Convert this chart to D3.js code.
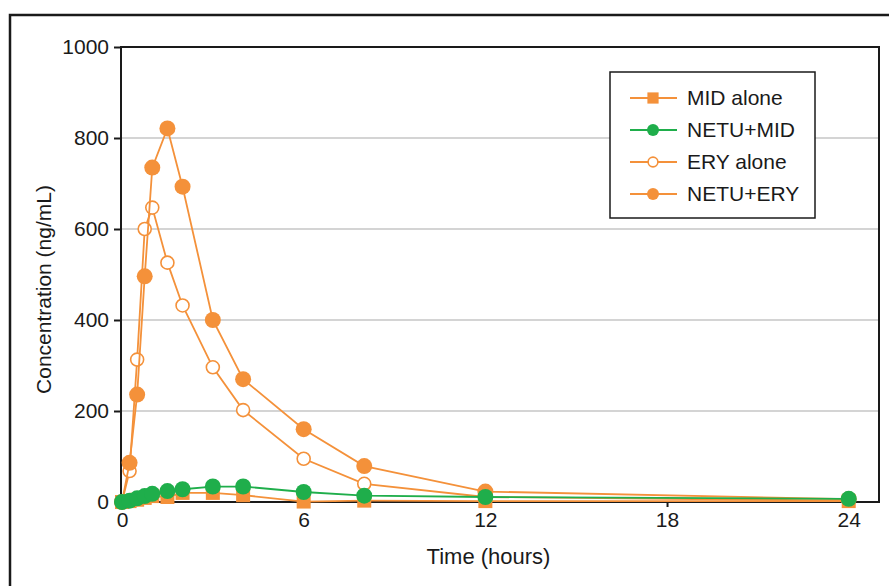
<!DOCTYPE html>
<html>
<head>
<meta charset="utf-8">
<script src="https://cdn.jsdelivr.net/npm/d3@7"></script>
<style>
  body { margin: 0; background: #fff; }
  svg { display: block; font-family: "Liberation Sans", Arial, sans-serif; }
</style>
</head>
<body>
<div id="chart"></div>
<script>
// sampling times (hours)
const times = [0, 0.25, 0.5, 0.75, 1, 1.5, 2, 3, 4, 6, 8, 12, 24];

// concentrations (ng/mL)
const midAlone = [0, 2, 5, 9, 13, 11, 20, 20, 15, 1, 3, 2, 2];
const netuMid  = [0, 3, 8, 13, 18, 24, 28, 34, 34, 22, 14, 11, 7];
const eryAlone = [0, 68, 313, 600, 647, 526, 432, 296, 202, 95, 40, 11, 3];
const netuEry  = [0, 86, 236, 496, 735, 821, 693, 400, 270, 160, 79, 23, 6];

const xTicks = [0, 6, 12, 18, 24];
const yTicks = [0, 200, 400, 600, 800, 1000];

const ORANGE = "#f4913a";
const GREEN  = "#1fae4b";
const INK = "#1a1a1a";
const FONT = "21px";

const series = [
  { name: "MID alone", values: midAlone, color: ORANGE, shape: "square" },
  { name: "NETU+MID",  values: netuMid,  color: GREEN,  shape: "filled" },
  { name: "ERY alone", values: eryAlone, color: ORANGE, shape: "open" },
  { name: "NETU+ERY",  values: netuEry,  color: ORANGE, shape: "filled" }
];
// drawing order: orange first, green on top
const drawOrder = [2, 3, 0, 1];

const width = 889, height = 586;
const margin = { top: 47, right: 10, bottom: 84, left: 121 };

const svg = d3.select("#chart").append("svg")
  .attr("width", width)
  .attr("height", height);

// outer frame (top and left edges)
svg.append("path")
  .attr("d", `M10,${height} L10,15 L${width},15`)
  .attr("fill", "none")
  .attr("stroke", INK)
  .attr("stroke-width", 2.5);

const x = d3.scaleLinear()
  .domain([0, 25])
  .range([margin.left + 1, width - margin.right]);

const y = d3.scaleLinear()
  .domain([0, 1000])
  .range([height - margin.bottom, margin.top]);

// gridlines
svg.append("g")
  .selectAll("line")
  .data(yTicks.filter(d => d > 0 && d < 1000))
  .join("line")
  .attr("x1", x.range()[0])
  .attr("x2", x.range()[1])
  .attr("y1", d => y(d))
  .attr("y2", d => y(d))
  .attr("stroke", "#c6c6c6")
  .attr("stroke-width", 1.5);

// plot box
svg.append("rect")
  .attr("x", x.range()[0] - 1)
  .attr("y", y(1000))
  .attr("width", x.range()[1] - x.range()[0] + 1)
  .attr("height", y(0) - y(1000))
  .attr("fill", "none")
  .attr("stroke", INK)
  .attr("stroke-width", 2);

// axes
const yAxis = svg.append("g")
  .attr("transform", `translate(${x.range()[0] - 1},0)`)
  .call(d3.axisLeft(y).tickValues(yTicks).tickFormat(d3.format("d")).tickSize(7).tickPadding(5));

const xAxis = svg.append("g")
  .attr("transform", `translate(0,${y(0)})`)
  .call(d3.axisBottom(x).tickValues(xTicks).tickFormat(d3.format("d")).tickSize(5).tickPadding(5));

[yAxis, xAxis].forEach(ax => {
  ax.attr("font-size", null).attr("font-family", null);
  ax.select(".domain").remove();
  ax.selectAll(".tick line").attr("stroke", INK).attr("stroke-width", 2);
  ax.selectAll("text")
    .attr("fill", INK)
    .style("font-size", FONT);
});

// axis titles
svg.append("text")
  .attr("x", (x.range()[0] + x.range()[1]) / 2 - 12)
  .attr("y", 564)
  .attr("text-anchor", "middle")
  .attr("fill", INK)
  .style("font-size", "22px")
  .text("Time (hours)");

svg.append("text")
  .attr("transform", `translate(51,${(y(0) + y(1000)) / 2 + 15}) rotate(-90)`)
  .attr("text-anchor", "middle")
  .attr("fill", INK)
  .style("font-size", FONT)
  .text("Concentration (ng/mL)");

// draw a marker at (cx, cy)
function drawMarker(g, shape, color, cx, cy, s) {
  if (shape === "square") {
    g.append("rect")
      .attr("x", cx - 7 * s).attr("y", cy - 7 * s)
      .attr("width", 14 * s).attr("height", 14 * s)
      .attr("fill", color);
  } else if (shape === "open") {
    g.append("circle")
      .attr("cx", cx).attr("cy", cy).attr("r", 6.5 * s)
      .attr("fill", "#fff")
      .attr("stroke", color)
      .attr("stroke-width", 1.6);
  } else {
    g.append("circle")
      .attr("cx", cx).attr("cy", cy).attr("r", 8 * s)
      .attr("fill", color);
  }
}

const line = d3.line()
  .x(d => x(d.t))
  .y(d => y(d.v));

drawOrder.forEach(i => {
  const s = series[i];
  const pts = times.map((t, k) => ({ t: t, v: s.values[k] }));
  const g = svg.append("g");
  g.append("path")
    .datum(pts)
    .attr("fill", "none")
    .attr("stroke", s.color)
    .attr("stroke-width", 1.8)
    .attr("d", line);
  pts.forEach(p => drawMarker(g, s.shape, s.color, x(p.t), y(p.v), 1));
});

// legend
const legend = svg.append("g").attr("transform", "translate(610,72)");
legend.append("rect")
  .attr("width", 205)
  .attr("height", 146)
  .attr("fill", "#fff")
  .attr("stroke", INK)
  .attr("stroke-width", 1.5);

series.forEach((s, i) => {
  const ly = 26 + i * 32;
  legend.append("line")
    .attr("x1", 20).attr("x2", 67)
    .attr("y1", ly).attr("y2", ly)
    .attr("stroke", s.color)
    .attr("stroke-width", 1.8);
  drawMarker(legend, s.shape, s.color, 43, ly, s.shape === "square" ? 0.8 : 0.75);
  legend.append("text")
    .attr("x", 77)
    .attr("y", ly)
    .attr("dy", "0.35em")
    .attr("fill", INK)
    .style("font-size", FONT)
    .text(s.name);
});
</script>
</body>
</html>
